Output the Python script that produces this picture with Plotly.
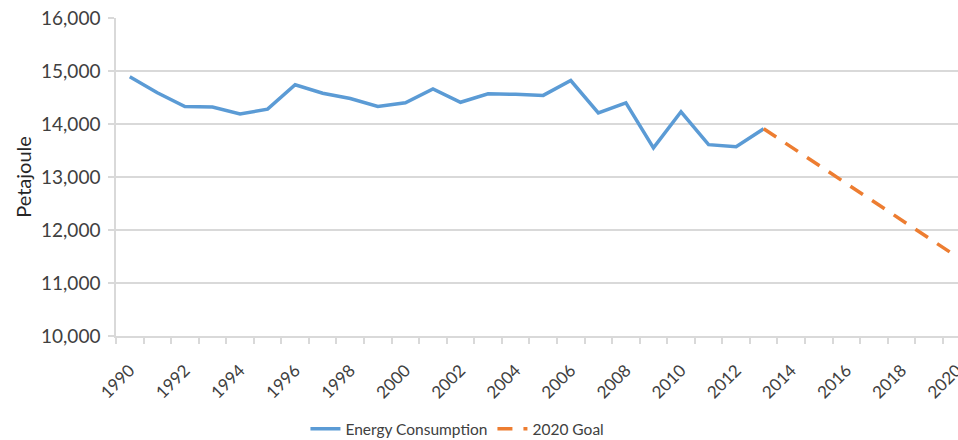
import plotly.graph_objects as go

# Annual energy consumption (Petajoule)
years = list(range(1990, 2014))
consumption = [14890, 14590, 14330, 14320, 14190, 14280, 14740, 14580, 14480, 14330,
               14400, 14660, 14410, 14570, 14560, 14540, 14820, 14210, 14400, 13550,
               14230, 13610, 13570, 13910]

# Target path towards 2020
goal_years = [2013, 2020]
goal_values = [13910, 11500]

year_labels = list(range(1990, 2021, 2))
y_ticks = list(range(10000, 16001, 1000))

FONT = "Lato"
GRID = "#d9d9d9"
TXT = "#404040"

fig = go.Figure()
fig.add_trace(go.Scatter(
    x=years, y=consumption, mode="lines", name="Energy Consumption",
    line=dict(color="#5b9bd5", width=3.5),
))
fig.add_trace(go.Scatter(
    x=goal_years, y=goal_values, mode="lines", name="2020 Goal",
    line=dict(color="#ed7d31", width=3.5, dash="15px,11px"),
))

fig.update_layout(
    width=958, height=440,
    margin=dict(l=116, r=0, t=18, b=104, autoexpand=False),
    paper_bgcolor="white", plot_bgcolor="white",
    font=dict(family=FONT, color=TXT, size=16),
    showlegend=True,
    legend=dict(orientation="h", x=0.225, xanchor="left", y=-0.293, yanchor="middle",
                font=dict(size=15.5, color=TXT), itemwidth=30, tracegroupgap=0),
)
fig.update_xaxes(
    range=[1989.5, 2020.05], automargin=False,
    tickmode="array", tickvals=year_labels, ticktext=[str(v) for v in year_labels],
    tickangle=-45, ticks="", tickfont=dict(size=17, color=TXT),
    ticklabelstandoff=16, ticklabeloverflow="allow",
    showgrid=False, showline=True, linecolor=GRID, linewidth=1.5,
    minor=dict(ticks="outside", ticklen=6, tickcolor=GRID, tickwidth=1.5,
               tick0=1989.5, dtick=1, showgrid=False),
)
fig.update_yaxes(
    range=[10000, 16000], tickvals=y_ticks, tickformat=",", automargin=False,
    ticks="outside", ticklen=6, tickcolor=GRID, tickwidth=1.5,
    tickfont=dict(size=19, color=TXT), ticklabelstandoff=4,
    showgrid=True, gridcolor=GRID, gridwidth=1.5,
    showline=True, linecolor=GRID, linewidth=1.5, zeroline=False,
    title=dict(text="Petajoule", font=dict(size=20, color="#262626"), standoff=4),
)

fig.write_html("out.html")
